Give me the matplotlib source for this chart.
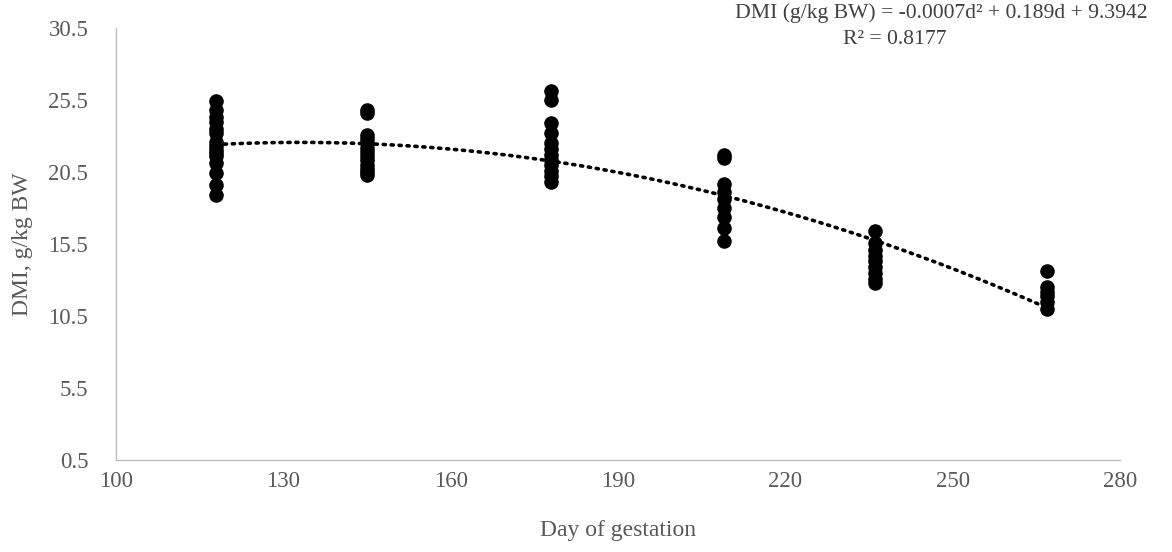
import numpy as np
import matplotlib
matplotlib.use('Agg')
import matplotlib.pyplot as plt

plt.rcParams['font.family'] = ['Liberation Serif', 'DejaVu Serif']

# DMI readings per sampling day (g/kg BW)
days = [118, 145, 178, 209, 236, 267]
dmi_118 = [25.4, 24.8, 24.3, 24.0, 23.5, 23.2, 22.6, 22.3, 22.0, 21.8, 21.6, 21.1, 20.4, 19.6, 18.9]
dmi_145 = [24.8, 24.6, 23.1, 22.8, 22.5, 22.2, 21.9, 21.6, 21.3, 21.0, 20.7, 20.5, 20.3]
dmi_178 = [26.1, 25.5, 23.9, 23.2, 22.5, 22.1, 21.7, 21.3, 21.0, 20.6, 20.2, 19.8]
dmi_209 = [21.7, 21.5, 19.7, 19.1, 18.6, 18.0, 17.4, 16.6, 15.7]
dmi_236 = [16.4, 15.6, 15.1, 14.7, 14.3, 13.9, 13.5, 13.1, 12.8]
dmi_267 = [13.6, 12.5, 12.2, 11.9, 11.5, 11.0]
groups = [dmi_118, dmi_145, dmi_178, dmi_209, dmi_236, dmi_267]

x_ticks = [100, 130, 160, 190, 220, 250, 280]
y_ticks = [0.5, 5.5, 10.5, 15.5, 20.5, 25.5, 30.5]

eq_text = 'DMI (g/kg BW) = -0.0007d\u00b2 + 0.189d + 9.3942'
r2_text = 'R\u00b2 = 0.8177'

xs = np.concatenate([[d] * len(g) for d, g in zip(days, groups)])
ys = np.concatenate(groups)

fig = plt.figure(figsize=(11.72, 5.52), dpi=100)
ax = fig.add_axes([0.099, 0.1667, 0.8566, 0.7826])

ax.scatter(xs, ys, s=110, color='black', zorder=3, linewidths=0)

# quadratic trendline fitted to the points
coef = np.polyfit(xs, ys, 2)
xx = np.linspace(min(days), max(days), 300)
ax.plot(xx, np.polyval(coef, xx), color='black', linestyle=(0, (0.6, 1.6)),
        linewidth=2.6, dash_capstyle='round', zorder=4)

ax.set_xlim(100, 280)
ax.set_ylim(0.5, 30.5)
ax.set_xticks(x_ticks)
ax.set_yticks(y_ticks)
ax.set_xticklabels([str(t) for t in x_ticks])
ax.set_yticklabels([f'{t:.1f}' for t in y_ticks])
ax.tick_params(length=0, labelsize=16.5, labelcolor='#595959')
ax.tick_params(axis='x', pad=8)
ax.tick_params(axis='y', pad=20)

for s in ['top', 'right']:
    ax.spines[s].set_visible(False)
for s in ['left', 'bottom']:
    ax.spines[s].set_color('#bfbfbf')
    ax.spines[s].set_linewidth(1.0)

ax.set_xlabel('Day of gestation', fontsize=17, color='#595959', labelpad=20)
ax.set_ylabel('DMI, g/kg BW', fontsize=17, color='#595959', labelpad=11)

fig.text(735 / 1172, 1 - 13 / 552, eq_text, fontsize=15.6, color='#404040',
         ha='left', va='center')
fig.text(843 / 1172, 1 - 39 / 552, r2_text, fontsize=15.6, color='#404040',
         ha='left', va='center')

fig.savefig('out.png', dpi=100)
